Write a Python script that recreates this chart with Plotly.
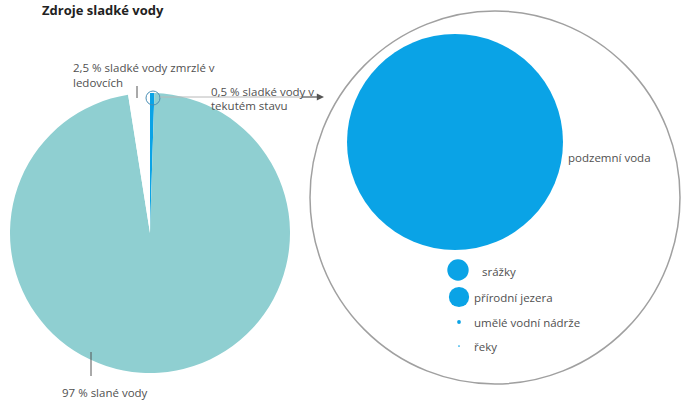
import plotly.graph_objects as go
import math

# ---- data ----
title = "Zdroje sladké vody"
pie_labels = ["0,5 % sladké vody v tekutém stavu", "97 % slané vody", "2,5 % sladké vody zmrzlé v ledovcích"]
pie_values = [0.5, 97, 2.5]
pie_colors = ["#0aa3e6", "#8fcfd1", "#ffffff"]

liquid_labels = ["podzemní voda", "srážky", "přírodní jezera", "umělé vodní nádrže", "řeky"]
liquid_values = [97.0, 0.95, 0.85, 0.03, 0.006]
bubble_color = "#0aa3e6"

# ---- layout (pixel positions) ----
W, H = 681, 402
bubble_x = [455, 458, 459, 459, 459]
bubble_y = [142, 270, 297, 322, 346]
max_diam = 216
diam = [max(1.5, max_diam * math.sqrt(v / max(liquid_values))) for v in liquid_values]

fig = go.Figure()

# left pie
pcx, pcy, pr = 150, 233, 140
fig.add_trace(go.Pie(
    labels=pie_labels, values=pie_values, sort=False, direction="clockwise", rotation=0,
    marker=dict(colors=pie_colors, line=dict(width=0)),
    textinfo="none", hoverinfo="label+value", showlegend=False,
    domain=dict(x=[(pcx - pr) / W, (pcx + pr) / W], y=[1 - (pcy + pr) / H, 1 - (pcy - pr) / H]),
))

# bubbles
fig.add_trace(go.Scatter(
    x=bubble_x, y=bubble_y, mode="markers",
    marker=dict(size=diam, color=bubble_color, line=dict(width=0), opacity=1),
    text=liquid_labels, hoverinfo="text", showlegend=False,
))

fig.update_xaxes(range=[0, W], visible=False, domain=[0, 1], fixedrange=True)
fig.update_yaxes(range=[H, 0], visible=False, domain=[0, 1], fixedrange=True)

shapes = [
    # big outline circle
    dict(type="circle", xref="x", yref="y", x0=310, x1=680, y0=11, y1=384,
         line=dict(color="#a0a0a0", width=1.5)),
    # zoom circle on pie
    dict(type="circle", xref="x", yref="y", x0=146, x1=160, y0=91, y1=105,
         line=dict(color="#4a8fb5", width=1)),
    # connector line
    dict(type="line", xref="x", yref="y", x0=160, x1=318, y0=97, y1=97,
         line=dict(color="#b8b8b8", width=1)),
    # leader lines
    dict(type="line", xref="x", yref="y", x0=137, x1=137, y0=86, y1=98,
         line=dict(color="#555555", width=1)),
    dict(type="line", xref="x", yref="y", x0=91, x1=91, y0=352, y1=376,
         line=dict(color="#555555", width=1)),
]

font = dict(family="Open Sans", size=11.5, color="#505050")
ann = []
def t(x, y, s, **kw):
    d = dict(x=x, y=y, xref="x", yref="y", text=s, showarrow=False, xanchor="left",
             yanchor="middle", font=font)
    d.update(kw)
    ann.append(d)

t(71, 67, "2,5 % sladké vody zmrzlé v")
t(71, 82, "ledovcích")
t(209, 91, "0,5 % sladké vody v")
t(209, 105, "tekutém stavu")
t(60, 392, "97 % slané vody")
t(566, 157, liquid_labels[0])
t(480, 271, liquid_labels[1])
t(472, 297, liquid_labels[2])
t(472, 322, liquid_labels[3])
t(472, 346, liquid_labels[4])
t(40, 10, "<b>" + title + "</b>", font=dict(family="Open Sans", size=13, color="#222222"))
# arrowhead
ann.append(dict(x=324, y=97, ax=300, ay=97, xref="x", yref="y", axref="x", ayref="y",
                showarrow=True, arrowhead=2, arrowsize=1.2, arrowwidth=1.2,
                arrowcolor="#555555", text=""))

fig.update_layout(
    width=W, height=H, margin=dict(l=0, r=0, t=0, b=0),
    paper_bgcolor="white", plot_bgcolor="white",
    shapes=shapes, annotations=ann, showlegend=False,
)

fig.write_html("out.html", config={"displayModeBar": False},
               post_script="document.body.style.margin='0';document.body.style.overflow='hidden';")
